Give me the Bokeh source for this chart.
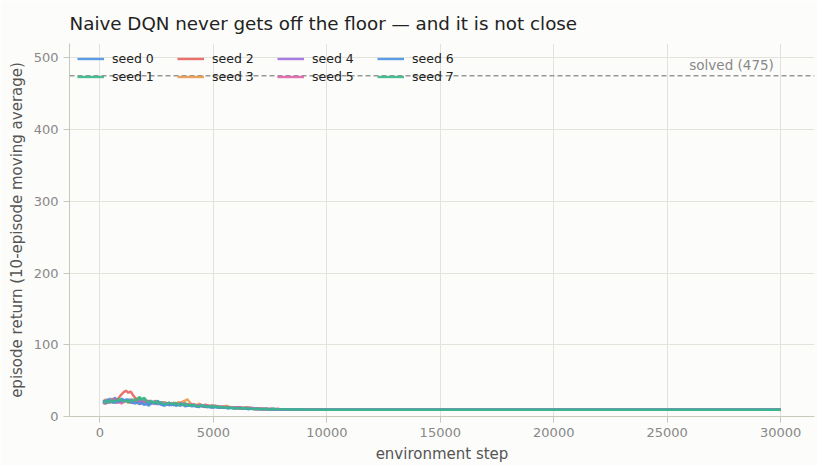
from bokeh.plotting import figure
from bokeh.models import Span, Label, Legend, LegendItem, Range1d
from bokeh.embed import file_html
from bokeh.resources import INLINE

# ---- data ----
steps_early = [150, 250, 350, 450, 550, 650, 750, 850, 950, 1050,
               1150, 1250, 1350, 1450, 1550, 1650, 1750, 1850, 1950, 2050,
               2150, 2250, 2350, 2450, 2550, 2650, 2750, 2850, 2950, 3050,
               3150, 3250, 3350, 3450, 3550, 3650, 3750, 3850, 3950, 4050,
               4150, 4250, 4350, 4450, 4550, 4650, 4750, 4850, 4950, 5050,
               5150, 5250, 5350, 5450, 5550, 5650, 5750, 5850, 5950, 6050,
               6150, 6250, 6350, 6450, 6550, 6650, 6750, 6850, 6950, 7050,
               7150, 7250, 7350, 7450, 7550, 7650, 7750, 7850, 7950]
steps_late = [9000, 10000, 11000, 12000, 13000, 14000, 15000, 16000, 17000, 18000,
              19000, 20000, 21000, 22000, 23000, 24000, 25000, 26000, 27000, 28000,
              29000, 30000]

seed0 = [19, 23, 21, 25, 22, 26, 24, 21, 23, 20,
         24, 22, 19, 21, 23, 20, 18, 21, 19, 17,
         15, 18, 20, 17, 21, 19, 16, 18, 17, 19,
         18, 16, 17, 19, 16, 18, 15, 17, 16, 15,
         16, 14, 15, 16, 14, 15, 13, 14, 15, 13,
         14, 13, 14, 12, 13, 14, 12, 13, 12, 12,
         13, 12, 11, 12, 12, 11, 12, 11, 11, 11,
         11, 10, 11, 10, 11, 10, 10, 10, 10,
         9.8, 9.6, 9.5, 9.6, 9.4, 9.5, 9.6, 9.4, 9.5, 9.5, 9.6,
         9.4, 9.5, 9.4, 9.6, 9.5, 9.4, 9.5, 9.6, 9.4, 9.5, 9.5]
seed1 = [22, 18, 20, 23, 19, 21, 24, 20, 22, 21,
         23, 20, 22, 24, 21, 25, 27, 24, 26, 22,
         20, 18, 21, 19, 22, 18, 17, 20, 18, 19,
         17, 19, 18, 16, 18, 17, 19, 16, 17, 15,
         16, 15, 14, 16, 15, 14, 15, 13, 14, 14,
         13, 14, 13, 12, 13, 12, 13, 12, 12, 13,
         12, 11, 12, 12, 11, 12, 11, 11, 11, 10,
         11, 10, 11, 10, 10, 11, 10, 10, 10,
         9.7, 9.5, 9.6, 9.4, 9.5, 9.5, 9.4, 9.6, 9.5, 9.4, 9.5,
         9.6, 9.4, 9.5, 9.5, 9.4, 9.6, 9.5, 9.4, 9.5, 9.6, 9.5]
seed2 = [17, 21, 19, 23, 20, 24, 22, 27, 31, 34,
         36, 33, 35, 30, 26, 23, 25, 21, 22, 19,
         21, 20, 18, 21, 19, 20, 17, 19, 18, 17,
         18, 16, 17, 18, 16, 17, 16, 15, 17, 16,
         15, 16, 14, 15, 14, 15, 13, 14, 13, 14,
         13, 12, 13, 14, 12, 13, 12, 12, 13, 11,
         12, 11, 12, 11, 11, 12, 11, 10, 11, 11,
         10, 11, 10, 10, 11, 10, 10, 10, 10,
         9.6, 9.5, 9.4, 9.5, 9.6, 9.4, 9.5, 9.5, 9.6, 9.4, 9.5,
         9.4, 9.6, 9.5, 9.4, 9.5, 9.5, 9.6, 9.4, 9.5, 9.4, 9.5]
seed3 = [21, 24, 20, 22, 25, 21, 19, 23, 22, 20,
         22, 19, 21, 23, 20, 18, 21, 19, 20, 18,
         19, 21, 18, 20, 17, 19, 18, 20, 17, 18,
         18, 19, 17, 20, 19, 21, 22, 24, 20, 17,
         17, 15, 18, 16, 15, 17, 14, 15, 16, 14,
         15, 13, 14, 12, 15, 14, 12, 13, 12, 11,
         12, 13, 11, 12, 13, 12, 11, 11, 10, 11,
         11, 10, 11, 10, 10, 10, 11, 10, 10,
         9.8, 9.5, 9.5, 9.6, 9.4, 9.5, 9.4, 9.6, 9.5, 9.5, 9.4,
         9.5, 9.6, 9.4, 9.5, 9.6, 9.4, 9.5, 9.5, 9.4, 9.6, 9.5]
seed4 = [20, 18, 21, 19, 23, 24, 21, 22, 20, 23,
         21, 22, 20, 19, 21, 20, 22, 19, 21, 20,
         22, 19, 18, 20, 17, 19, 18, 17, 19, 16,
         17, 18, 16, 17, 18, 16, 17, 15, 16, 17,
         15, 14, 16, 15, 14, 15, 14, 13, 14, 15,
         13, 14, 12, 13, 12, 13, 12, 12, 11, 12,
         13, 11, 12, 11, 12, 11, 11, 11, 10, 11,
         10, 10, 11, 10, 10, 10, 10, 10, 10,
         9.6, 9.4, 9.5, 9.5, 9.6, 9.4, 9.5, 9.4, 9.5, 9.6, 9.4,
         9.5, 9.5, 9.4, 9.6, 9.5, 9.5, 9.4, 9.6, 9.5, 9.4, 9.5]
seed5 = [18, 21, 23, 20, 24, 22, 19, 20, 18, 21,
         23, 21, 24, 22, 20, 21, 19, 18, 20, 22,
         21, 19, 20, 22, 18, 19, 20, 17, 18, 19,
         17, 16, 18, 17, 19, 18, 16, 17, 15, 16,
         17, 16, 15, 17, 14, 15, 16, 14, 13, 15,
         14, 13, 12, 14, 13, 12, 13, 12, 12, 13,
         12, 11, 12, 13, 11, 12, 11, 11, 10, 11,
         11, 10, 10, 11, 10, 10, 10, 11, 10,
         9.7, 9.5, 9.4, 9.6, 9.5, 9.5, 9.6, 9.4, 9.4, 9.5, 9.6,
         9.5, 9.4, 9.5, 9.6, 9.4, 9.5, 9.5, 9.4, 9.6, 9.5, 9.4]
seed6 = [23, 20, 24, 22, 21, 19, 22, 20, 25, 23,
         22, 24, 21, 19, 18, 20, 17, 19, 16, 18,
         17, 19, 20, 18, 21, 17, 16, 15, 17, 16,
         16, 17, 15, 16, 15, 17, 14, 15, 16, 14,
         15, 14, 13, 15, 14, 13, 14, 13, 12, 13,
         13, 12, 13, 12, 12, 11, 12, 12, 11, 12,
         11, 12, 11, 11, 10, 11, 11, 10, 11, 10,
         10, 11, 10, 10, 10, 10, 10, 10, 10,
         9.6, 9.5, 9.5, 9.4, 9.6, 9.5, 9.4, 9.5, 9.6, 9.5, 9.4,
         9.5, 9.5, 9.6, 9.4, 9.5, 9.6, 9.4, 9.5, 9.5, 9.4, 9.6]
seed7 = [21, 19, 22, 20, 23, 21, 22, 24, 23, 21,
         22, 20, 23, 21, 24, 22, 26, 23, 25, 21,
         20, 22, 19, 21, 18, 20, 19, 17, 18, 19,
         18, 17, 19, 16, 18, 17, 16, 17, 15, 16,
         16, 15, 14, 15, 16, 14, 13, 14, 15, 13,
         14, 13, 12, 13, 12, 13, 12, 11, 12, 12,
         11, 12, 11, 12, 11, 11, 10, 11, 11, 10,
         10, 11, 10, 10, 10, 11, 10, 10, 10,
         9.7, 9.5, 9.6, 9.5, 9.4, 9.5, 9.5, 9.4, 9.6, 9.5, 9.5,
         9.4, 9.5, 9.6, 9.4, 9.5, 9.5, 9.5, 9.6, 9.4, 9.5, 9.5]

seed_labels = ["seed 0", "seed 1", "seed 2", "seed 3", "seed 4", "seed 5", "seed 6", "seed 7"]
solved_threshold = 475
solved_label = "solved (475)"

title = "Naive DQN never gets off the floor \u2014 and it is not close"
x_label = "environment step"
y_label = "episode return (10-episode moving average)"
x_ticks = [0, 5000, 10000, 15000, 20000, 25000, 30000]
y_ticks = [0, 100, 200, 300, 400, 500]

# ---- style ----
BG = "#fcfcfa"
colors = ["#4a90e2", "#37b887", "#e8605c", "#e8984e", "#a06ee0", "#e060a8", "#4a90e2", "#37b887"]
FONT = "DejaVu Sans"

p = figure(width=817, height=465, output_backend="svg", toolbar_location=None,
           title=title, y_range=Range1d(0, 520),
           min_border_left=69, min_border_right=3, min_border_top=43, min_border_bottom=49)
p.background_fill_color = BG
p.border_fill_color = BG
p.outline_line_color = None

p.title.text_font = FONT
p.title.text_font_size = "18.3px"
p.title.text_font_style = "normal"
p.title.text_color = "#222222"
p.title.standoff = 20

for ax in (p.xaxis, p.yaxis):
    ax.axis_line_color = "#c8c8bc"
    ax.major_tick_line_color = "#c8c8bc"
    ax.major_tick_out = 6
    ax.major_tick_in = 0
    ax.minor_tick_line_color = None
    ax.major_label_text_font = FONT
    ax.major_label_text_font_size = "13px"
    ax.major_label_text_color = "#888888"
    ax.axis_label_text_font = FONT
    ax.axis_label_text_font_size = "15px"
    ax.axis_label_text_font_style = "normal"
    ax.axis_label_text_color = "#555555"

p.xaxis.axis_label = x_label
p.yaxis.axis_label = y_label
p.xaxis.ticker = x_ticks
p.yaxis.ticker = y_ticks
p.xgrid.grid_line_color = "#e3e3dc"
p.ygrid.grid_line_color = "#e3e3dc"
p.xgrid.ticker = x_ticks
p.ygrid.ticker = y_ticks

steps = steps_early + steps_late
series = [seed0, seed1, seed2, seed3, seed4, seed5, seed6, seed7]
items = []
for lab, ys, c in zip(seed_labels, series, colors):
    r = p.line(steps, ys, line_color=c, line_width=2.4, line_alpha=0.9)
    items.append(LegendItem(label=lab, renderers=[r]))

p.add_layout(Span(location=solved_threshold, dimension="width", line_color="#999999",
                  line_dash="5 3", line_width=1.5))
p.add_layout(Label(x=29700, y=solved_threshold, text=solved_label, text_align="right",
                   text_baseline="bottom", y_offset=3, text_font=FONT, text_font_size="13.5px",
                   text_color="#888888"))

legend = Legend(items=items, location="top_left", orientation="vertical", nrows=2,
                background_fill_alpha=0, border_line_color=None,
                label_text_font=FONT, label_text_font_size="12.5px", label_text_color="#222222",
                glyph_width=27, glyph_height=15, label_height=15, label_width=62,
                label_standoff=8, spacing=3, padding=3, margin=8)
p.add_layout(legend)

open("out.html", "w").write(file_html(p, INLINE))
